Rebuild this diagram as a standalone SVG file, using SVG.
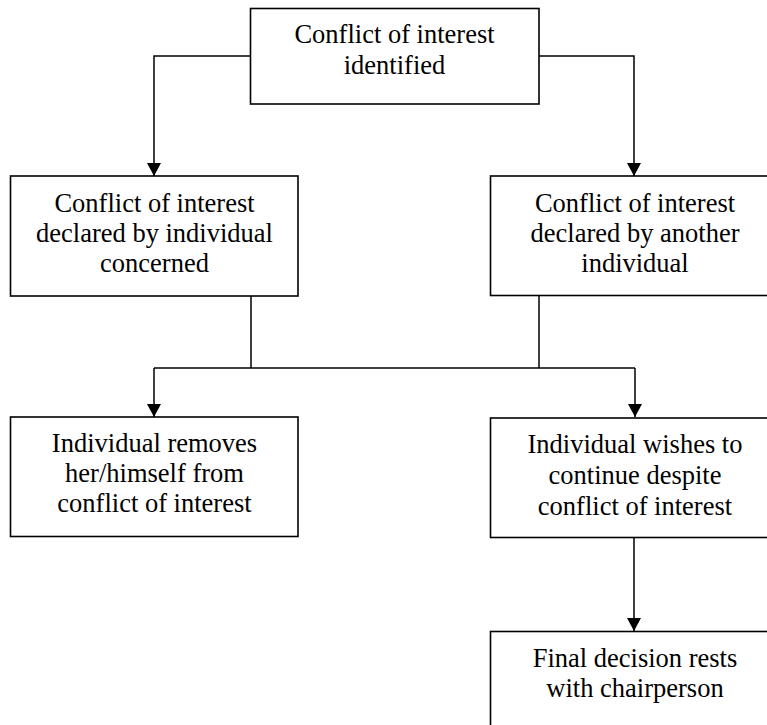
<svg xmlns="http://www.w3.org/2000/svg" width="767" height="725" viewBox="0 0 767 725">
<style>
.box{fill:#fff;stroke:#000;stroke-width:1.6}
.lbl{font-family:"Liberation Serif","Times New Roman",serif;font-size:26.5px;fill:#000;text-anchor:middle}
.con{fill:none;stroke:#000;stroke-width:1.5}
.arr{fill:none;stroke:#000;stroke-width:1.5;marker-end:url(#ah)}
</style>
<defs>
<marker id="ah" markerUnits="userSpaceOnUse" markerWidth="13" markerHeight="14" viewBox="0 0 13 14" refX="13" refY="7" orient="auto">
<path d="M0,0 L13,7 L0,14 Z" fill="#000"/>
</marker>
</defs>
<rect width="767" height="725" fill="#fff"/>
<g id="connectors">
<path class="arr" d="M250,56 H154 V176"/>
<path class="arr" d="M539,56 H634 V176"/>
<path class="con" d="M251,296 V368"/>
<path class="con" d="M539,296 V368"/>
<path class="con" d="M154,368 H635"/>
<path class="arr" d="M154,368 V417"/>
<path class="arr" d="M635,368 V417"/>
<path class="arr" d="M634,537 V631"/>
</g>
<g id="n_identified">
<rect class="box" x="250.5" y="8.5" width="288.5" height="95.5"/>
<text class="lbl" x="394.5" y="43">Conflict of interest</text>
<text class="lbl" x="394.5" y="74">identified</text>
</g>
<g id="n_declared_self">
<rect class="box" x="10.5" y="176" width="287.5" height="120"/>
<text class="lbl" x="154.5" y="212">Conflict of interest</text>
<text class="lbl" x="154.5" y="242">declared by individual</text>
<text class="lbl" x="154.5" y="272">concerned</text>
</g>
<g id="n_declared_other">
<rect class="box" x="490.5" y="176" width="288" height="119.5"/>
<text class="lbl" x="635" y="212">Conflict of interest</text>
<text class="lbl" x="635" y="242">declared by another</text>
<text class="lbl" x="635" y="272">individual</text>
</g>
<g id="n_removes">
<rect class="box" x="10.5" y="417" width="287.5" height="119.5"/>
<text class="lbl" x="154.5" y="452">Individual removes</text>
<text class="lbl" x="154.5" y="482">her/himself from</text>
<text class="lbl" x="154.5" y="512">conflict of interest</text>
</g>
<g id="n_continue">
<rect class="box" x="490.5" y="418" width="288" height="119.5"/>
<text class="lbl" x="635" y="453">Individual wishes to</text>
<text class="lbl" x="635" y="484">continue despite</text>
<text class="lbl" x="635" y="515">conflict of interest</text>
</g>
<g id="n_final">
<rect class="box" x="490.5" y="631.5" width="288" height="120"/>
<text class="lbl" x="635" y="667">Final decision rests</text>
<text class="lbl" x="635" y="697">with chairperson</text>
</g>
</svg>
